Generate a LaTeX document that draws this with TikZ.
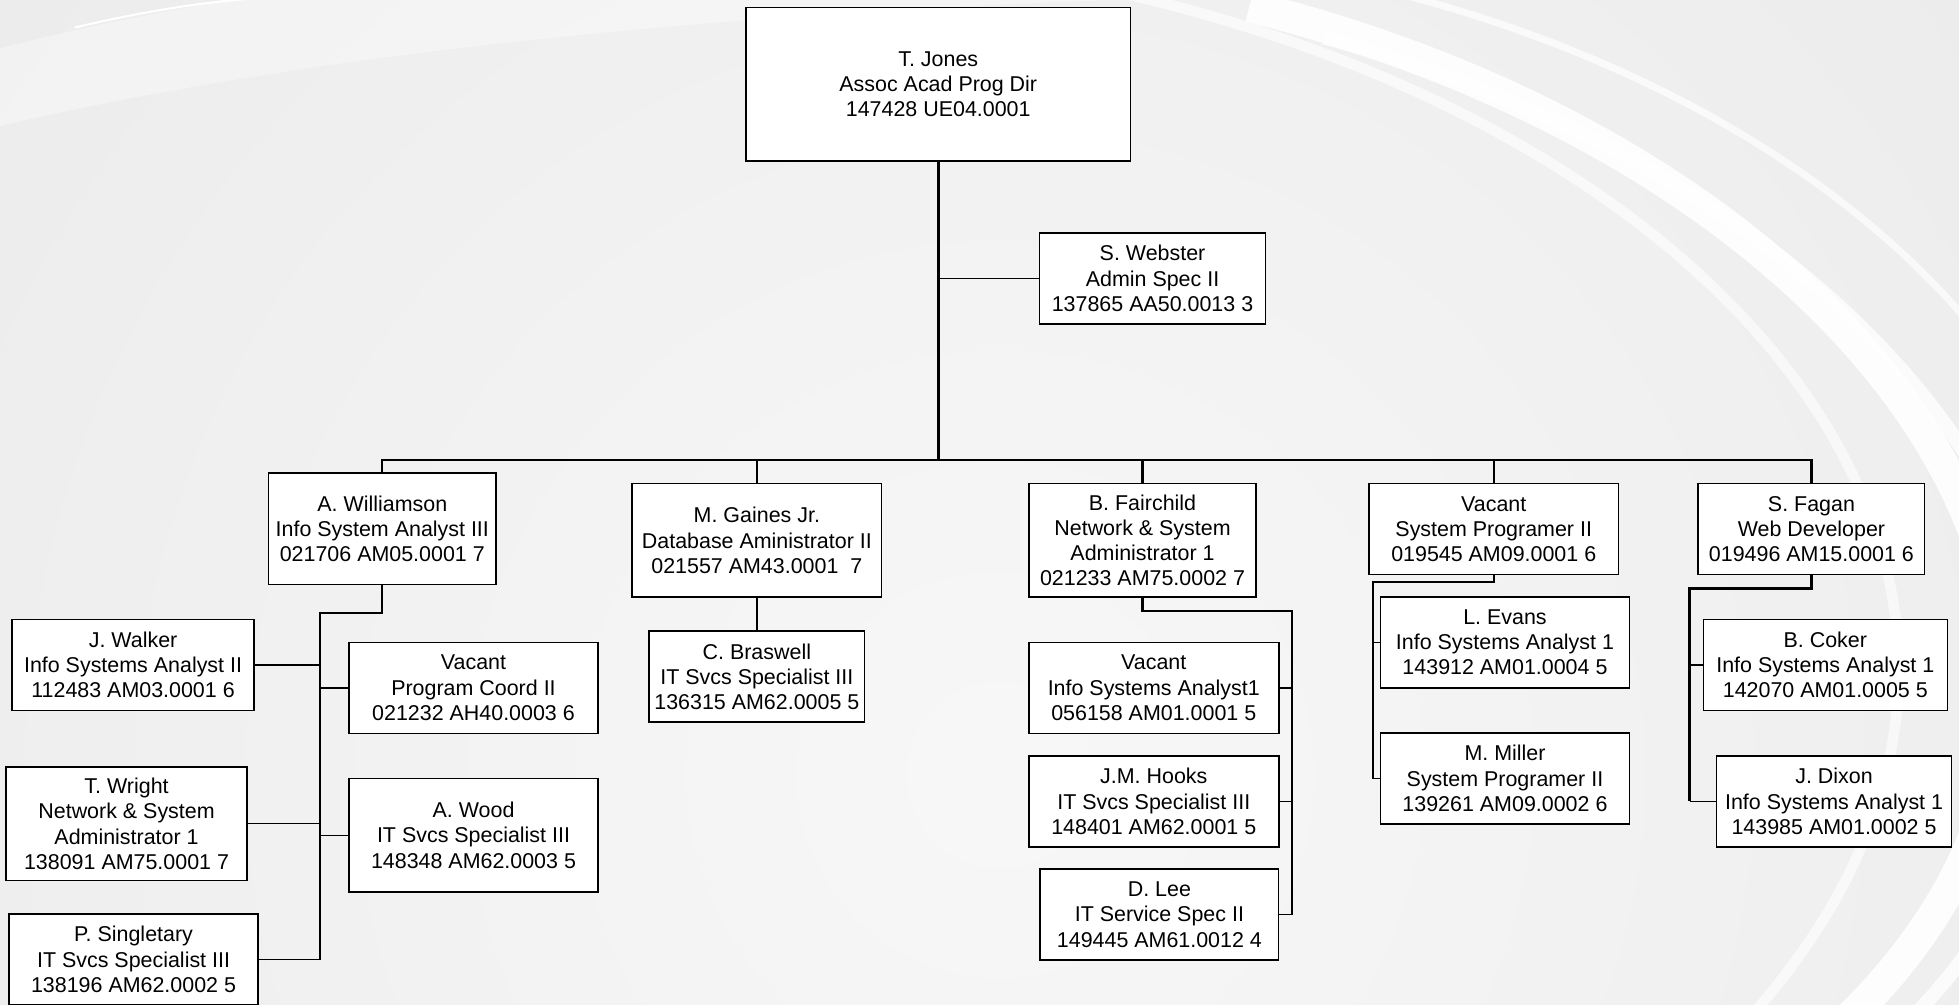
\documentclass[tikz,border=0pt]{standalone}
\usepackage{fontspec}
\setmainfont{Liberation Sans}
\tikzset{
	box/.style={draw,fill=white,line width=0.45pt,align=center,inner sep=0pt,outer sep=0pt,
		font=\fontsize{6.1}{7.2}\selectfont,minimum width=#1},
	box/.default=2.5cm,
	row3/.style={minimum height=0.91cm},
	row4/.style={minimum height=1.137cm},
	link/.style={line width=0.45pt},
	bus/.style={line width=0.65pt},
	trunk/.style={line width=0.85pt}
}

\begin{document}
\begin{tikzpicture}[x=0.012494cm,y=-0.012494cm]
	\useasboundingbox (0,0) rectangle (1568,804);
	% background
	\begin{scope}
		\clip (0,0) rectangle (1568,804);
		\fill[gray!22] (0,0) rectangle (1568,804);
		\shade[inner color=white!97!black,outer color=gray!22] (800,620) circle (1800);
		\fill[white,opacity=0.35] (-5,40) .. controls (80,18) and (150,5) .. (220,-5) -- (1100,-5)
			.. controls (700,0) and (300,30) .. (-5,102) -- cycle;
		\draw[white,line width=0.6pt] (60,22) .. controls (120,8) and (170,0) .. (230,-3);
		\draw[white,line width=3pt,opacity=0.6] (900,-5) .. controls (1400,110) and (1700,480) .. (1400,815);
		\draw[white,line width=9pt,opacity=0.9] (1000,5) .. controls (1500,130) and (1780,520) .. (1480,815);
		\draw[white,line width=4pt,opacity=0.8] (1060,30) .. controls (1540,160) and (1800,540) .. (1530,815);
		\draw[white,line width=2pt,opacity=0.7] (1120,-5) .. controls (1600,120) and (1850,500) .. (1565,815);
	\end{scope}

	\node[box=3.848cm,minimum height=1.537cm] (1) at (751,67.5) {T. Jones\\Assoc Acad Prog Dir\\147428 UE04.0001};
	\node[box=2.261cm,row3] (2) at (922.5,223) {S. Webster\\Admin Spec II\\137865 AA50.0013 3};
	\node[box=2.274cm,minimum height=1.118cm] (3) at (306,423.2) {A. Williamson\\Info System Analyst III\\021706 AM05.0001 7};
	\node[box=2.494cm,row4] (4) at (605.8,432.5) {M. Gaines Jr.\\Database Aministrator II\\021557 AM43.0001\ \ 7};
	\node[box=2.274cm,row4] (5) at (914.5,432.5) {B. Fairchild\\Network \& System\\Administrator 1\\021233 AM75.0002 7};
	\node[box=2.499cm,row3] (6) at (1195.6,423.5) {Vacant\\System Programer II\\019545 AM09.0001 6};
	\node[box=2.265cm,row3] (7) at (1449.9,423.5) {S. Fagan\\Web Developer\\019496 AM15.0001 6};
	\node[box=2.424cm,row3] (8) at (106.5,532.3) {J. Walker\\Info Systems Analyst II\\112483 AM03.0001 6};
	\node[box=2.495cm,row3] (9) at (379,550.6) {Vacant\\Program Coord II\\021232 AH40.0003 6};
	\node[box=2.411cm,row4] (10) at (101.3,659.3) {T. Wright\\Network \& System\\Administrator 1\\138091 AM75.0001 7};
	\node[box=2.495cm,row4] (11) at (379,668.6) {A. Wood\\IT Svcs Specialist III\\148348 AM62.0003 5};
	\node[box=2.495cm,row3] (12) at (106.9,768) {P. Singletary\\IT Svcs Specialist III\\138196 AM62.0002 5};
	\node[box=2.155cm,row3] (13) at (605.8,541.6) {C. Braswell\\IT Svcs Specialist III\\136315 AM62.0005 5};
	\node[box=2.499cm,row3] (14) at (923.5,550.6) {Vacant\\Info Systems Analyst1\\056158 AM01.0001 5};
	\node[box=2.499cm,row3] (15) at (923.5,641.4) {J.M. Hooks\\IT Svcs Specialist III\\148401 AM62.0001 5};
	\node[box=2.386cm,row3] (16) at (928,732.1) {D. Lee\\IT Service Spec II\\149445 AM61.0012 4};
	\node[box=2.494cm,row3] (17) at (1204.6,514.2) {L. Evans\\Info Systems Analyst 1\\143912 AM01.0004 5};
	\node[box=2.494cm,row3] (18) at (1204.6,623.2) {M. Miller\\System Programer II\\139261 AM09.0002 6};
	\node[box=2.440cm,row3] (19) at (1461,532.3) {B. Coker\\Info Systems Analyst 1\\142070 AM01.0005 5};
	\node[box=2.349cm,row3] (20) at (1468,641.4) {J. Dixon\\Info Systems Analyst 1\\143985 AM01.0002 5};

	\coordinate (top) at (751,368);
	\coordinate (b3) at (256.4,490.6);
	\coordinate (b5) at (1034,489.2);
	\coordinate (b6) at (1098.9,465.6);
	\coordinate (b7) at (1352.3,471.1);

	\draw[trunk] (1.south) -- (top);
	\draw[link] (1.south |- 2.west) -- (2.west);
	\draw[bus] (3.north) |- (top) -| (7.north);
	\foreach \n in {4,5,6}
		\draw[bus] (\n.north) -- (\n.north |- top);

	\draw[bus] (3.south) |- (b3) -- (b3 |- 12.east);
	\foreach \n in {8,10,12}
		\draw[link] (\n.east) -- (\n.east -| b3);
	\foreach \n in {9,11}
		\draw[link] (\n.west) -- (\n.west -| b3);

	\draw[bus] (4.south) -- (13.north);

	\draw[bus] (5.south) |- (b5) -- (b5 |- 16.east);
	\foreach \n in {14,15,16}
		\draw[link] (\n.east) -- (\n.east -| b5);

	\draw[bus] (6.south) |- (b6) -- (b6 |- 18.west);
	\foreach \n in {17,18}
		\draw[link] (\n.west) -- (\n.west -| b6);

	\draw[bus] (7.south) |- (b7) -- (b7 |- 20.west);
	\foreach \n in {19,20}
		\draw[link] (\n.west) -- (\n.west -| b7);
\end{tikzpicture}
\end{document}
